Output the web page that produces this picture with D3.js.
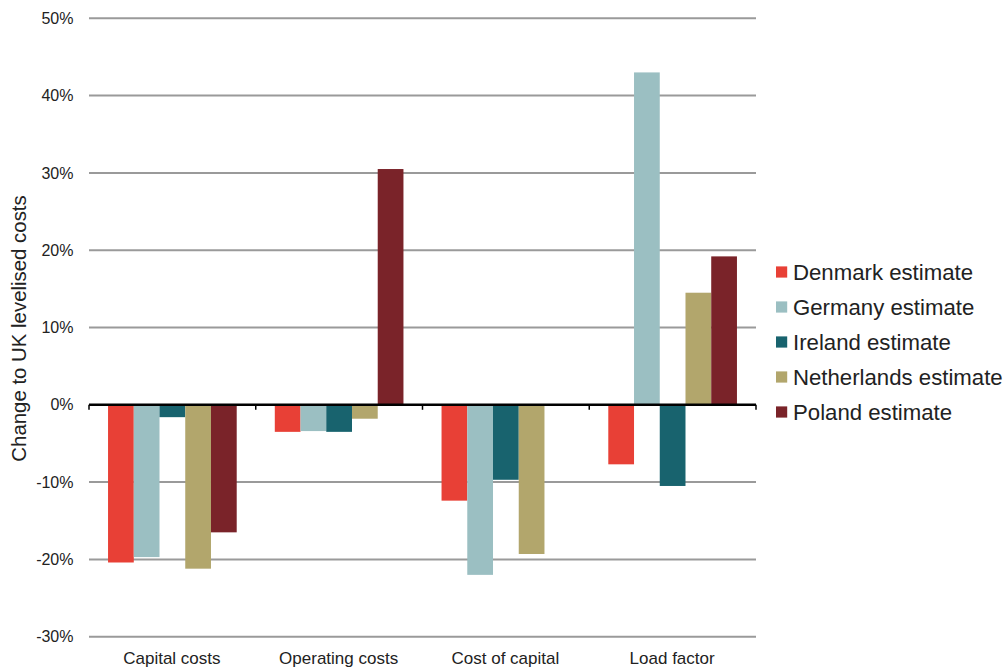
<!DOCTYPE html>
<html><head><meta charset="utf-8">
<script src="https://cdn.jsdelivr.net/npm/d3@7"></script>
<style>body{margin:0;background:#fff}svg{display:block}text{font-family:"Liberation Sans",Arial,sans-serif;fill:#222}</style>
</head><body><svg id="c" width="1008" height="668"></svg>
<script>
const categories = ["Capital costs","Operating costs","Cost of capital","Load factor"];
const seriesNames = ["Denmark estimate","Germany estimate","Ireland estimate","Netherlands estimate","Poland estimate"];
const denmark = [-20.4,-3.5,-12.4,-7.7];
const germany = [-19.7,-3.4,-22.0,43.0];
const ireland = [-1.6,-3.5,-9.7,-10.5];
const netherlands = [-21.2,-1.8,-19.3,14.5];
const poland = [-16.5,30.5,0,19.2];
const yTicks = [-30,-20,-10,0,10,20,30,40,50];
const colors = ["#E84036","#9BBFC2","#18636E","#B2A66C","#7A2329"];

(function(){
const series = [denmark,germany,ireland,netherlands,poland];
const svg = d3.select("#c");
const pLeft = 89, pRight = 756, pTop = 18.3, pBottom = 636.7;
const x = d3.scaleBand().domain(categories).range([pLeft,pRight]).paddingInner(0).paddingOuter(0);
const xs = d3.scaleBand().domain(seriesNames).range([0,x.bandwidth()]).paddingOuter(0.74).paddingInner(0);
const y = d3.scaleLinear().domain([-30,50]).range([pBottom,pTop]);

svg.append("g").selectAll("line").data(yTicks.filter(d=>d!==0)).join("line")
  .attr("x1",pLeft).attr("x2",pRight).attr("y1",d=>y(d)).attr("y2",d=>y(d))
  .attr("stroke","#9a9a9a").attr("stroke-width",2);

svg.append("g").selectAll("text").data(yTicks).join("text")
  .attr("x",73.5).attr("y",d=>y(d)).attr("dy","0.35em").attr("text-anchor","end")
  .attr("font-size",16).text(d=>d+"%");

const g = svg.append("g");
categories.forEach((c,ci)=>{
  series.forEach((s,si)=>{
    const v = s[ci];
    if (v===0) return;
    g.append("rect")
      .attr("x",x(c)+xs(seriesNames[si]))
      .attr("width",xs.bandwidth())
      .attr("y",y(Math.max(0,v)))
      .attr("height",Math.abs(y(v)-y(0)))
      .attr("fill",colors[si]);
  });
});

svg.append("line").attr("x1",pLeft).attr("x2",pRight).attr("y1",y(0)).attr("y2",y(0))
  .attr("stroke","#000").attr("stroke-width",2.5);
const bounds = categories.map(c=>x(c)).concat([pRight]);
svg.append("g").selectAll("line").data(bounds).join("line")
  .attr("x1",d=>d).attr("x2",d=>d).attr("y1",y(0)).attr("y2",y(0)+5)
  .attr("stroke","#000").attr("stroke-width",1.5);

svg.append("g").selectAll("text").data(categories).join("text")
  .attr("x",d=>x(d)+x.bandwidth()/2-0.5).attr("y",664).attr("text-anchor","middle")
  .attr("font-size",17).text(d=>d);

svg.append("text").attr("transform","translate(26,328.5) rotate(-90)")
  .attr("text-anchor","middle").attr("font-size",20.4).text("Change to UK levelised costs");

const lg = svg.append("g");
seriesNames.forEach((n,i)=>{
  const cy = 272 + i*35;
  lg.append("rect").attr("x",776).attr("y",cy-5.6).attr("width",11.2).attr("height",11.2).attr("fill",colors[i]);
  lg.append("text").attr("x",793).attr("y",cy).attr("dy","0.35em").attr("font-size",22.2).text(n);
});
})();
</script></body></html>
